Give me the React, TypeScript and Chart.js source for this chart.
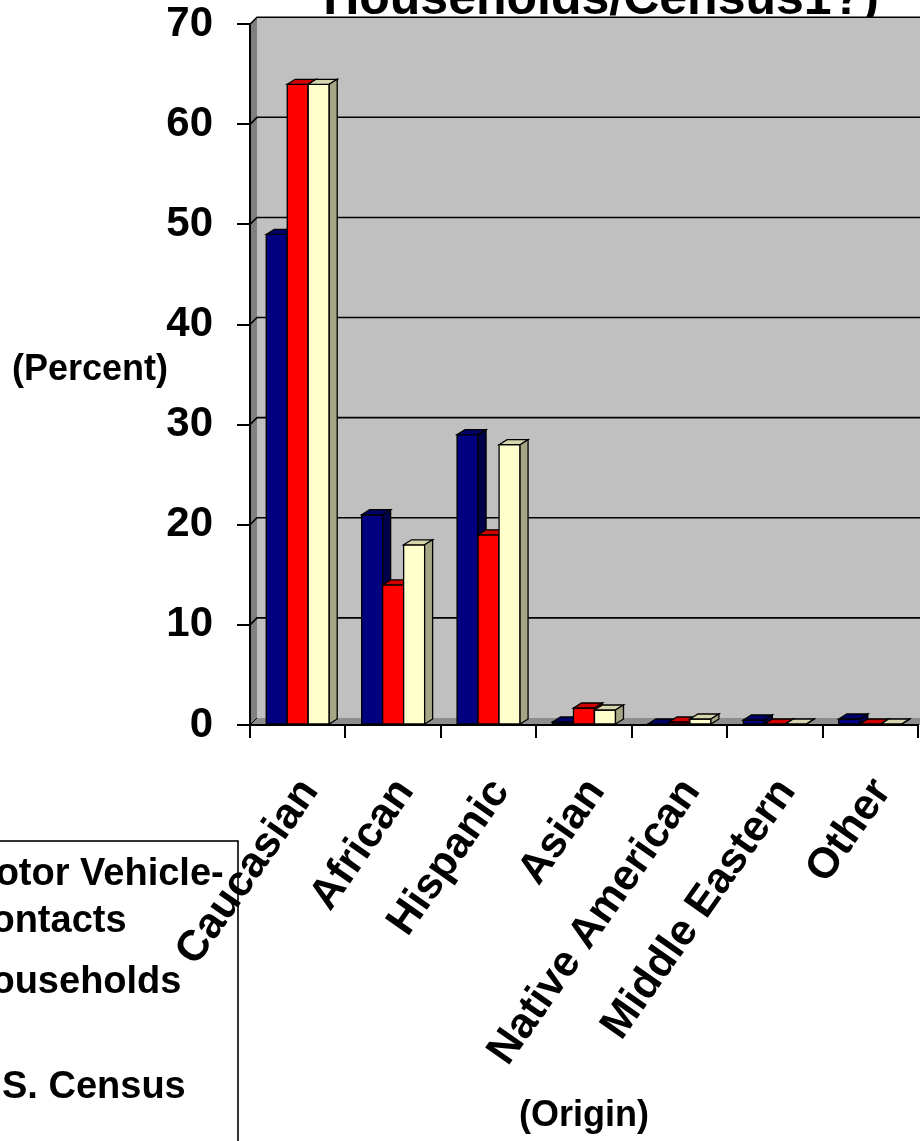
import React, { useEffect, useRef } from 'react';
import { Chart, registerables } from 'chart.js';

Chart.register(...registerables);

// ---------- data ----------
const categories = ['Caucasian', 'African', 'Hispanic', 'Asian', 'Native American', 'Middle Eastern', 'Other'];
const motorVehicleContacts = [49, 21, 29, 0.3, 0.1, 0.5, 0.6];
const households = [64, 14, 19, 1.7, 0.3, 0.1, 0.1];
const usCensus = [64, 18, 28, 1.5, 0.6, 0.1, 0.1];
const seriesNames = ['Motor Vehicle-Contacts', 'Households', 'U.S. Census'];
const legendLines = [['Motor Vehicle-', 'Contacts'], ['Households'], ['U.S. Census']];
const yMin = 0;
const yMax = 70;
const yStep = 10;
const titleLine = 'Households/Census1?)';
const yAxisTitle = '(Percent)';
const xAxisTitle = '(Origin)';

// ---------- layout / style ----------
const W = 920;
const H = 1141;
const FONT = '"Liberation Sans", Arial, Helvetica, sans-serif';
const PLOT_TOP = 24;
const PLOT_BOTTOM = 725;
const WALL_DX = 7;
const WALL_DY = -7;
const BAR_DX = 8;
const BAR_DY = -5;
const faceColors = [
  { front: '#000080', top: '#00006a', side: '#00004a' },
  { front: '#ff0000', top: '#d00000', side: '#a00000' },
  { front: '#ffffcc', top: '#d6d6ad', side: '#a6a686' },
];

function poly(ctx: CanvasRenderingContext2D, pts: number[][], fill: string | null, stroke: string | null, lw = 1) {
  ctx.beginPath();
  ctx.moveTo(pts[0][0], pts[0][1]);
  for (let i = 1; i < pts.length; i++) ctx.lineTo(pts[i][0], pts[i][1]);
  ctx.closePath();
  if (fill) {
    ctx.fillStyle = fill;
    ctx.fill();
  }
  if (stroke) {
    ctx.strokeStyle = stroke;
    ctx.lineWidth = lw;
    ctx.stroke();
  }
}

const wallsPlugin = {
  id: 'walls',
  beforeDraw(chart: any) {
    const { ctx, chartArea: a, scales } = chart;
    ctx.save();
    ctx.fillStyle = '#ffffff';
    ctx.fillRect(0, 0, chart.width, chart.height);
    // chart title: only the bottom of its last line is inside the picture
    ctx.fillStyle = '#000';
    ctx.font = `bold 50px ${FONT}`;
    ctx.textAlign = 'center';
    ctx.textBaseline = 'alphabetic';
    ctx.fillText(titleLine, 601, 14);
    // walls
    ctx.fillStyle = '#c0c0c0';
    ctx.fillRect(a.left + WALL_DX, a.top + WALL_DY, a.right - a.left + 40, a.bottom - a.top);
    poly(ctx, [[a.left, a.top], [a.left + WALL_DX, a.top + WALL_DY], [a.left + WALL_DX, a.bottom + WALL_DY], [a.left, a.bottom]], '#808080', null);
    poly(ctx, [[a.left, a.bottom], [a.left + WALL_DX, a.bottom + WALL_DY], [a.right + WALL_DX + 40, a.bottom + WALL_DY], [a.right + 40, a.bottom]], '#8e8e8e', null);
    const ys = scales.y;
    ctx.strokeStyle = '#000';
    ctx.lineWidth = 1.6;
    ys.ticks.forEach((t: any) => {
      if (t.value === yMin) return;
      const py = ys.getPixelForValue(t.value);
      ctx.beginPath();
      ctx.moveTo(a.left, py);
      ctx.lineTo(a.left + WALL_DX, py + WALL_DY);
      ctx.lineTo(a.right + WALL_DX + 40, py + WALL_DY);
      ctx.stroke();
    });
    ctx.lineWidth = 1;
    ctx.beginPath();
    ctx.moveTo(a.left, a.bottom);
    ctx.lineTo(a.left + WALL_DX, a.bottom + WALL_DY);
    ctx.stroke();
    ctx.restore();
  },
};

const bars3dPlugin = {
  id: 'bars3d',
  afterDatasetsDraw(chart: any) {
    const { ctx } = chart;
    ctx.save();
    ctx.lineJoin = 'miter';
    const n = chart.data.labels.length;
    for (let i = 0; i < n; i++) {
      chart.data.datasets.forEach((_: any, d: number) => {
        const meta = chart.getDatasetMeta(d);
        const el = meta.data[i];
        if (!el) return;
        const { x, y, base, width } = el.getProps(['x', 'y', 'base', 'width'], true);
        const l = x - width / 2;
        const r = x + width / 2;
        const c = faceColors[d];
        poly(ctx, [[l, y], [r, y], [r, base], [l, base]], c.front, '#000', 1.3);
        poly(ctx, [[l, y], [l + BAR_DX, y + BAR_DY], [r + BAR_DX, y + BAR_DY], [r, y]], c.top, '#000', 1.3);
        poly(ctx, [[r, y], [r + BAR_DX, y + BAR_DY], [r + BAR_DX, base + BAR_DY], [r, base]], c.side, '#000', 1.3);
      });
    }
    ctx.restore();
  },
};

const LABEL_DX = 12;
const LABEL_Y = 784;
const LABEL_ANGLE = (55 * Math.PI) / 180;

const decorPlugin = {
  id: 'decor',
  afterDraw(chart: any) {
    const { ctx, chartArea: a, scales } = chart;
    ctx.save();
    ctx.fillStyle = '#000';
    ctx.font = `bold 43px ${FONT}`;
    const xs = scales.x;
    (chart.data.labels as string[]).forEach((lab, i) => {
      const px = xs.getPixelForValue(i);
      ctx.save();
      ctx.translate(px + LABEL_DX, LABEL_Y);
      ctx.rotate(-LABEL_ANGLE);
      ctx.textAlign = 'right';
      ctx.textBaseline = 'middle';
      ctx.fillText(lab, 0, 0);
      ctx.restore();
    });
    ctx.font = `bold 36px ${FONT}`;
    ctx.textAlign = 'left';
    ctx.textBaseline = 'middle';
    ctx.fillText(yAxisTitle, 12, 370);
    ctx.textAlign = 'center';
    ctx.textBaseline = 'alphabetic';
    ctx.fillText(xAxisTitle, (a.left + a.right) / 2, 1126);
    ctx.lineWidth = 1.6;
    ctx.strokeStyle = '#000';
    ctx.strokeRect(-300, 841, 538, 600);
    const baselines = [885, 993, 1098];
    ctx.font = `bold 38px ${FONT}`;
    ctx.textAlign = 'left';
    legendLines.forEach((lines, i) => {
      ctx.fillStyle = faceColors[i].front;
      ctx.fillRect(-90, baselines[i] - 26, 26, 26);
      ctx.strokeRect(-90, baselines[i] - 26, 26, 26);
      ctx.fillStyle = '#000';
      lines.forEach((ln, j) => ctx.fillText(ln, -36, baselines[i] + j * 47));
    });
    ctx.restore();
  },
};

export default function App() {
  const ref = useRef<HTMLCanvasElement>(null);
  useEffect(() => {
    const canvas = ref.current as HTMLCanvasElement;
    const chart = new Chart(canvas, {
      type: 'bar',
      data: {
        labels: categories,
        datasets: [
          { label: seriesNames[0], data: motorVehicleContacts, backgroundColor: faceColors[0].front, borderColor: '#000', borderWidth: 1 },
          { label: seriesNames[1], data: households, backgroundColor: faceColors[1].front, borderColor: '#000', borderWidth: 1 },
          { label: seriesNames[2], data: usCensus, backgroundColor: faceColors[2].front, borderColor: '#000', borderWidth: 1 },
        ],
      },
      options: {
        animation: false,
        responsive: false,
        devicePixelRatio: 1,
        layout: { padding: { top: PLOT_TOP, right: 2, bottom: 0, left: 0 } },
        datasets: { bar: { barPercentage: 1, categoryPercentage: 0.66 } },
        plugins: { legend: { display: false }, title: { display: false }, tooltip: { enabled: false } },
        scales: {
          x: {
            offset: true,
            grid: { drawOnChartArea: false, drawTicks: true, tickLength: 13, color: '#000', lineWidth: 2, offset: true },
            border: { display: true, color: '#000', width: 2 },
            ticks: { display: false, autoSkip: false },
            afterFit: (s: any) => {
              s.height = H - PLOT_BOTTOM;
            },
          },
          y: {
            min: yMin,
            max: yMax,
            ticks: { stepSize: yStep, color: '#000', font: { family: FONT, size: 42, weight: 'bold', lineHeight: 0.01 }, padding: 24 },
            grid: { drawOnChartArea: false, drawTicks: true, tickLength: 13, color: '#000', lineWidth: 2 },
            border: { display: true, color: '#000', width: 2 },
            afterFit: (s: any) => {
              s.width = 250;
            },
          },
        },
      } as any,
      plugins: [wallsPlugin, bars3dPlugin, decorPlugin],
    });
    return () => chart.destroy();
  }, []);
  return (
    <div style={{ position: 'absolute', left: 0, top: 0, width: W, height: H, overflow: 'hidden', background: '#fff' }}>
      <canvas ref={ref} width={W} height={H} style={{ display: 'block' }} />
    </div>
  );
}
